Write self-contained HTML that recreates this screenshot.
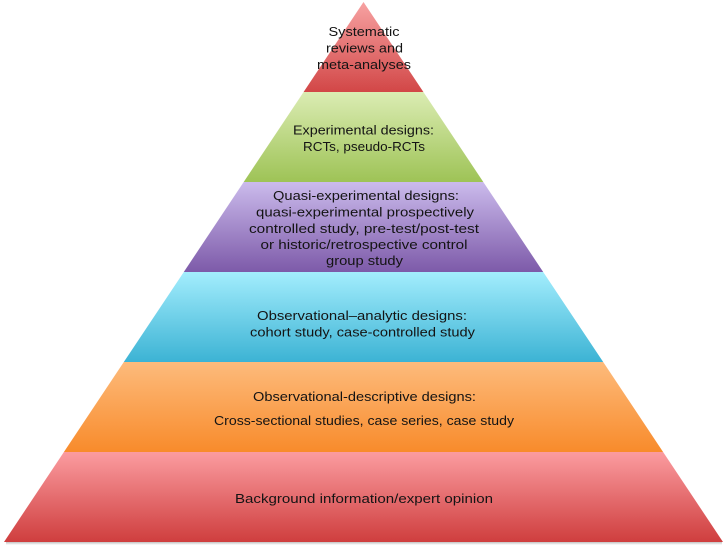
<!DOCTYPE html>
<html>
<head>
<meta charset="utf-8">
<style>
  html, body { margin: 0; padding: 0; background: #ffffff; }
  body { width: 728px; height: 547px; overflow: hidden; }
  svg { display: block; }
  text { font-family: "Liberation Sans", "DejaVu Sans", sans-serif; font-size: 12.5px; fill: #141414; }
</style>
</head>
<body>
<svg width="728" height="547" viewBox="0 0 728 547" xmlns="http://www.w3.org/2000/svg">
  <defs>
    <linearGradient id="gRed1" x1="0" y1="0" x2="0" y2="1">
      <stop offset="0" stop-color="#f7a2a2"/>
      <stop offset="1" stop-color="#d24747"/>
    </linearGradient>
    <linearGradient id="gGreen" x1="0" y1="0" x2="0" y2="1">
      <stop offset="0" stop-color="#dbecb3"/>
      <stop offset="1" stop-color="#9ec356"/>
    </linearGradient>
    <linearGradient id="gPurple" x1="0" y1="0" x2="0" y2="1">
      <stop offset="0" stop-color="#cbbbec"/>
      <stop offset="1" stop-color="#7d5aa9"/>
    </linearGradient>
    <linearGradient id="gBlue" x1="0" y1="0" x2="0" y2="1">
      <stop offset="0" stop-color="#a3edfd"/>
      <stop offset="1" stop-color="#3cb3d4"/>
    </linearGradient>
    <linearGradient id="gOrange" x1="0" y1="0" x2="0" y2="1">
      <stop offset="0" stop-color="#fdbb7c"/>
      <stop offset="1" stop-color="#f88b2b"/>
    </linearGradient>
    <linearGradient id="gRed2" x1="0" y1="0" x2="0" y2="1">
      <stop offset="0" stop-color="#fb9ca0"/>
      <stop offset="1" stop-color="#cf3e3e"/>
    </linearGradient>
    <linearGradient id="gShadow" x1="0" y1="0" x2="0" y2="1">
      <stop offset="0" stop-color="#b8b8b8"/>
      <stop offset="1" stop-color="#ffffff"/>
    </linearGradient>
  </defs>

  <!-- base shadow -->
  <rect x="6" y="541.5" width="716" height="3.5" fill="url(#gShadow)"/>

  <!-- bands -->
  <polygon points="363.5,2 423.4,92 303.6,92" fill="url(#gRed1)"/>
  <polygon points="303.6,92 423.4,92 483.3,182 243.7,182" fill="url(#gGreen)"/>
  <polygon points="243.7,182 483.3,182 543.2,272 183.8,272" fill="url(#gPurple)"/>
  <polygon points="183.8,272 543.2,272 603.2,362 123.8,362" fill="url(#gBlue)"/>
  <polygon points="123.8,362 603.2,362 663.1,452 63.9,452" fill="url(#gOrange)"/>
  <polygon points="63.9,452 663.1,452 723,542 4,542" fill="url(#gRed2)"/>

  <!-- top -->
  <text x="364" y="36" text-anchor="middle" textLength="71" lengthAdjust="spacingAndGlyphs">Systematic</text>
  <text x="364.5" y="52.5" text-anchor="middle" textLength="77" lengthAdjust="spacingAndGlyphs">reviews and</text>
  <text x="364" y="69" text-anchor="middle" textLength="94" lengthAdjust="spacingAndGlyphs">meta-analyses</text>

  <!-- green -->
  <text x="363.5" y="134.5" text-anchor="middle" textLength="141" lengthAdjust="spacingAndGlyphs">Experimental designs:</text>
  <text x="364" y="151" text-anchor="middle" textLength="122" lengthAdjust="spacingAndGlyphs">RCTs, pseudo-RCTs</text>

  <!-- purple -->
  <text x="366" y="200" text-anchor="middle" textLength="186" lengthAdjust="spacingAndGlyphs">Quasi-experimental designs:</text>
  <text x="365" y="216.5" text-anchor="middle" textLength="218" lengthAdjust="spacingAndGlyphs">quasi-experimental prospectively</text>
  <text x="364" y="233" text-anchor="middle" textLength="230" lengthAdjust="spacingAndGlyphs">controlled study, pre-test/post-test</text>
  <text x="364" y="249" text-anchor="middle" textLength="207" lengthAdjust="spacingAndGlyphs">or historic/retrospective control</text>
  <text x="364.5" y="265" text-anchor="middle" textLength="77" lengthAdjust="spacingAndGlyphs">group study</text>

  <!-- blue -->
  <text x="362" y="320" text-anchor="middle" textLength="210" lengthAdjust="spacingAndGlyphs">Observational–analytic designs:</text>
  <text x="362.5" y="336.5" text-anchor="middle" textLength="225" lengthAdjust="spacingAndGlyphs">cohort study, case-controlled study</text>

  <!-- orange -->
  <text x="364.5" y="401" text-anchor="middle" textLength="223" lengthAdjust="spacingAndGlyphs">Observational-descriptive designs:</text>
  <text x="364" y="425" text-anchor="middle" textLength="300" lengthAdjust="spacingAndGlyphs">Cross-sectional studies, case series, case study</text>

  <!-- bottom -->
  <text x="364" y="503" text-anchor="middle" textLength="258" lengthAdjust="spacingAndGlyphs">Background information/expert opinion</text>
</svg>
</body>
</html>
